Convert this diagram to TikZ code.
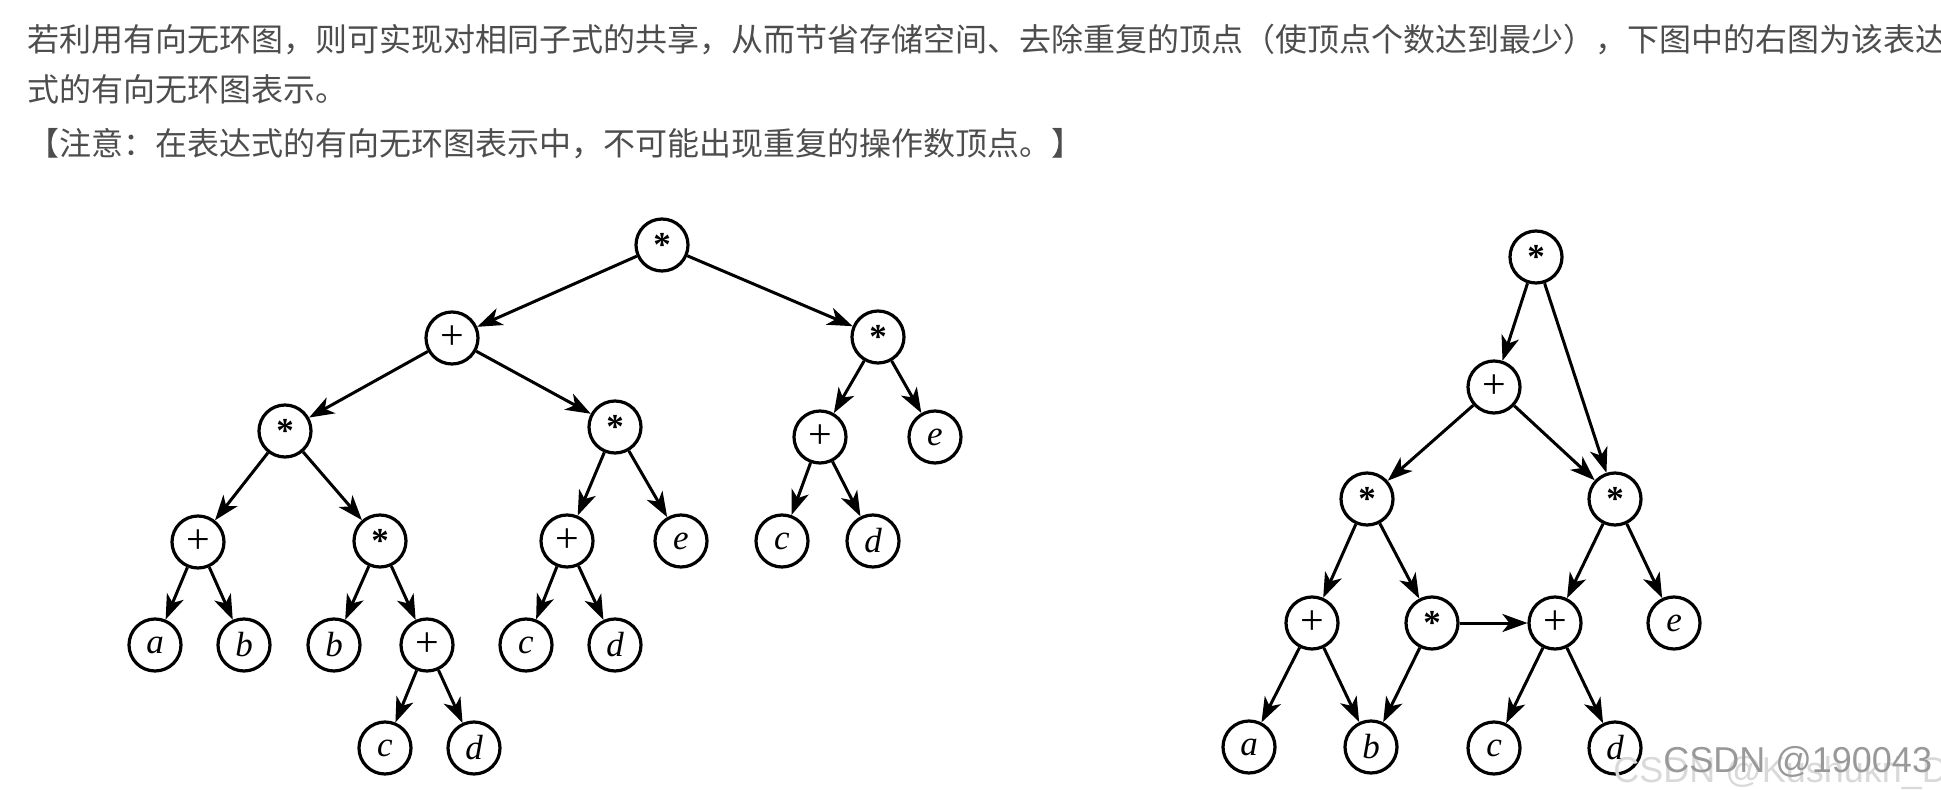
\documentclass[tikz,border=0pt]{standalone}
\usepackage{fontspec}
\usepackage{xcolor}
\usetikzlibrary{arrows.meta}
\newfontfamily\cjkfont{Noto Sans CJK SC}
\newfontfamily\opfont{Liberation Serif}
\newfontfamily\wmfont{Liberation Sans}
\definecolor{textgray}{HTML}{4D4D4D}
\newcommand{\opstar}{\raisebox{-0.22em}{\upshape\bfseries *}}
\newcommand{\opplus}{{\upshape\fontsize{21}{21}\selectfont +}}

\begin{document}
\begin{tikzpicture}[
        x=0.5pt, y=-0.5pt,
        vertex/.style={circle, draw, line width=1.6pt, minimum size=26pt, inner sep=0pt,
            font=\opfont\fontsize{17.5}{17.5}\selectfont\itshape},
        edge/.style={-{Stealth[length=12.5pt, width=9pt, inset=3.5pt]}, line width=1.5pt},
        para/.style={anchor=base west, inner sep=0pt, text=textgray,
            font=\cjkfont\fontsize{16}{16}\selectfont}
    ]
        \clip (0,0) rectangle (1941,790);

        % Text
        \node[para] (line1) at (27,52) {若利用有向无环图，则可实现对相同子式的共享，从而节省存储空间、去除重复的顶点（使顶点个数达到最少），下图中的右图为该表达};
        \node[para] (line2) at (27,102) {式的有向无环图表示。};
        \node[para] (line3) at (27,156) {【注意：在表达式的有向无环图表示中，不可能出现重复的操作数顶点。】};

        % Tree
        \node[vertex] (troot) at (662,245) {\opstar};
        \node[vertex] (tplus) at (452,338) {\opplus};
        \node[vertex] (tmul) at (878,337) {\opstar};
        \node[vertex] (tmulL) at (285,431) {\opstar};
        \node[vertex] (tmulR) at (615,427) {\opstar};
        \node[vertex] (tplusR) at (820,437) {\opplus};
        \node[vertex] (teR) at (935,437) {e};
        \node[vertex] (tplusA) at (198,542) {\opplus};
        \node[vertex] (tmulB) at (380,541) {\opstar};
        \node[vertex] (tplusC) at (567,541) {\opplus};
        \node[vertex] (te) at (681,541) {e};
        \node[vertex] (tcR) at (782,541) {c};
        \node[vertex] (tdR) at (873,541) {d};
        \node[vertex] (ta) at (155,645) {a};
        \node[vertex] (tb) at (244,645) {b};
        \node[vertex] (tb2) at (334,645) {b};
        \node[vertex] (tplusD) at (427,645) {\opplus};
        \node[vertex] (tc) at (526,645) {c};
        \node[vertex] (td) at (615,645) {d};
        \node[vertex] (tc2) at (385,748) {c};
        \node[vertex] (td2) at (474,748) {d};

        \draw[edge] (troot) -- (tplus);
        \draw[edge] (troot) -- (tmul);
        \draw[edge] (tplus) -- (tmulL);
        \draw[edge] (tplus) -- (tmulR);
        \draw[edge] (tmul) -- (tplusR);
        \draw[edge] (tmul) -- (teR);
        \draw[edge] (tmulL) -- (tplusA);
        \draw[edge] (tmulL) -- (tmulB);
        \draw[edge] (tmulR) -- (tplusC);
        \draw[edge] (tmulR) -- (te);
        \draw[edge] (tplusR) -- (tcR);
        \draw[edge] (tplusR) -- (tdR);
        \draw[edge] (tplusA) -- (ta);
        \draw[edge] (tplusA) -- (tb);
        \draw[edge] (tmulB) -- (tb2);
        \draw[edge] (tmulB) -- (tplusD);
        \draw[edge] (tplusC) -- (tc);
        \draw[edge] (tplusC) -- (td);
        \draw[edge] (tplusD) -- (tc2);
        \draw[edge] (tplusD) -- (td2);

        % DAG
        \node[vertex] (groot) at (1536,257) {\opstar};
        \node[vertex] (gplus) at (1494,387) {\opplus};
        \node[vertex] (gmulL) at (1367,499) {\opstar};
        \node[vertex] (gmulR) at (1615,499) {\opstar};
        \node[vertex] (gplusA) at (1312,623) {\opplus};
        \node[vertex] (gmulB) at (1432,623) {\opstar};
        \node[vertex] (gplusC) at (1555,623) {\opplus};
        \node[vertex] (ge) at (1674,623) {e};
        \node[vertex] (ga) at (1249,747) {a};
        \node[vertex] (gb) at (1371,747) {b};
        \node[vertex] (gc) at (1494,748) {c};
        \node[vertex] (gd) at (1615,748) {d};

        \draw[edge] (groot) -- (gplus);
        \draw[edge] (groot) -- (gmulR);
        \draw[edge] (gplus) -- (gmulL);
        \draw[edge] (gplus) -- (gmulR);
        \draw[edge] (gmulL) -- (gplusA);
        \draw[edge] (gmulL) -- (gmulB);
        \draw[edge] (gmulR) -- (gplusC);
        \draw[edge] (gmulR) -- (ge);
        \draw[edge] (gmulB) -- (gplusC);
        \draw[edge] (gplusA) -- (ga);
        \draw[edge] (gplusA) -- (gb);
        \draw[edge] (gmulB) -- (gb);
        \draw[edge] (gplusC) -- (gc);
        \draw[edge] (gplusC) -- (gd);

        % Watermark
        \node[anchor=west, inner sep=0pt, text=black!15, font=\wmfont\fontsize{18}{18}\selectfont] (wm2) at (1613,773) {CSDN @Kushukri\_D};
        \node[anchor=west, inner sep=0pt, text=black!40, font=\wmfont\fontsize{18}{18}\selectfont] (wm1) at (1663,762) {CSDN @190043};
    \end{tikzpicture}
\end{document}
